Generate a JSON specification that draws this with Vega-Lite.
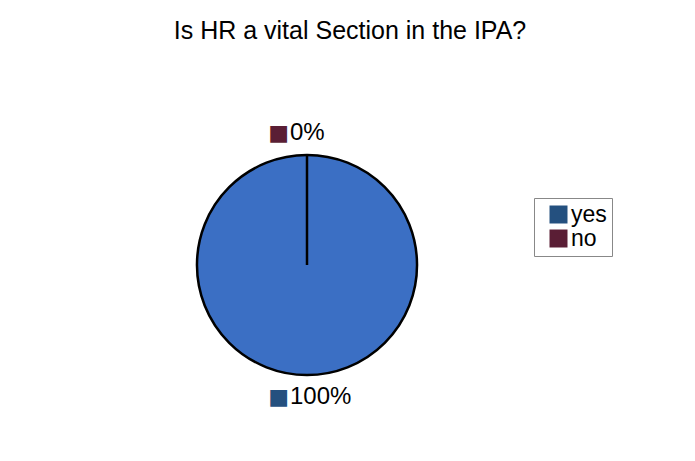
{
  "$schema": "https://vega.github.io/schema/vega-lite/v6.json",
  "width": 614,
  "height": 392,
  "autosize": {"type": "none"},
  "padding": {"left": 0, "top": 69, "right": 81, "bottom": 0},
  "background": "white",
  "title": {"text": "Is HR a vital Section in the IPA?", "fontSize": 25, "font": "Liberation Sans", "fontWeight": "normal", "color": "black", "anchor": "middle", "frame": "group", "dx": 43, "offset": 25},
  "config": {"view": {"stroke": null}},
  "data": {"values": [{"answer": "yes", "pct": 100, "label": "100%"}, {"answer": "no", "pct": 0, "label": "0%"}]},
  "layer": [
    {
      "mark": {"type": "arc", "outerRadius": 110, "stroke": "black", "strokeWidth": 2.5, "fill": "#3b6fc4"},
      "encoding": {
        "theta": {"field": "pct", "type": "quantitative", "stack": true},
        "detail": {"field": "answer", "type": "nominal"}
      }
    },
    {
      "mark": {"type": "text", "radius": 132, "font": "DejaVu Sans", "fontSize": 22, "align": "right", "baseline": "middle", "dx": -18, "text": "■"},
      "encoding": {
        "theta": {"field": "pct", "type": "quantitative", "stack": true},
        "color": {"field": "answer", "type": "nominal", "scale": {"domain": ["yes", "no"], "range": ["#24507f", "#5a1e35"]},
          "legend": {"orient": "none", "legendX": 534, "legendY": 129, "title": null, "symbolType": "square", "symbolSize": 324, "symbolOffset": 8, "labelFontSize": 23, "labelFont": "Liberation Sans", "labelColor": "black", "strokeColor": "#888", "padding": 5, "rowPadding": 0, "labelOffset": 1, "symbolStrokeWidth": 0, "symbolOpacity": 1, "fillColor": "white"}}
      }
    },
    {
      "mark": {"type": "text", "radius": 132, "font": "Liberation Sans", "fontSize": 24, "align": "left", "baseline": "middle", "dx": -17, "color": "black"},
      "encoding": {
        "theta": {"field": "pct", "type": "quantitative", "stack": true},
        "detail": {"field": "answer", "type": "nominal"},
        "text": {"field": "label", "type": "nominal"}
      }
    }
  ]
}
